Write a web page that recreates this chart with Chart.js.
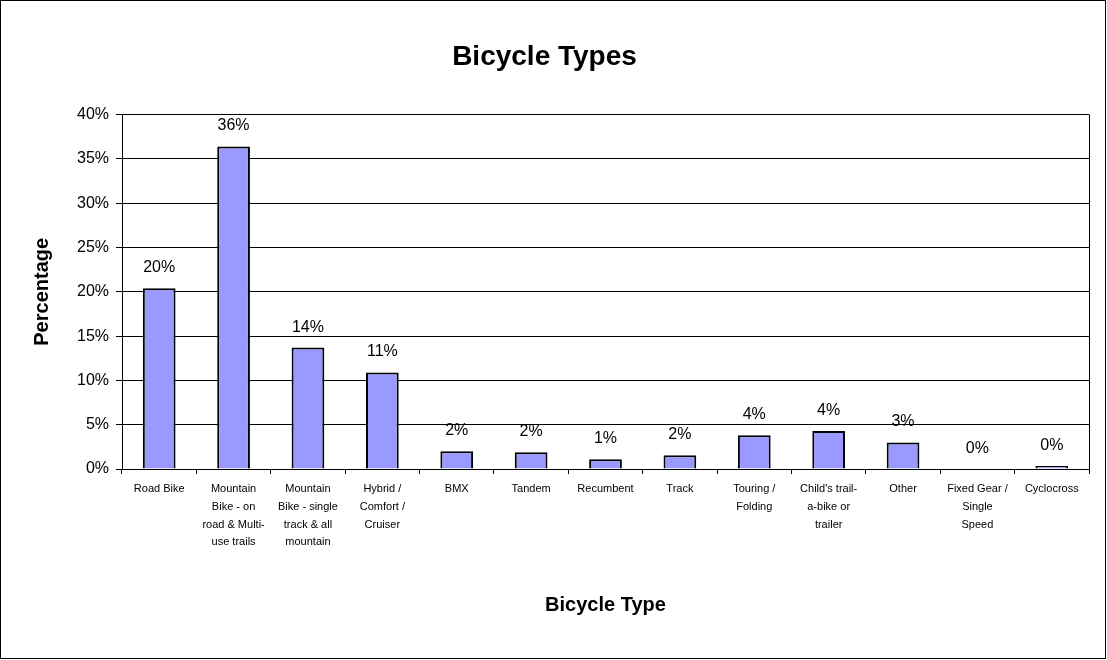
<!DOCTYPE html>
<html>
<head>
<meta charset="utf-8">
<script src="https://cdn.jsdelivr.net/npm/chart.js@4.4.0/dist/chart.umd.min.js"></script>
<style>
  body { margin: 0; background: #fff; }
  #wrap { width: 1107px; height: 660px; }
</style>
</head>
<body>
<div id="wrap"><canvas id="grafico" width="1107" height="660"></canvas></div>
<script>
// categorias y valores
const categorias = [
    ["Road Bike"],
    ["Mountain", "Bike - on", "road & Multi-", "use trails"],
    ["Mountain", "Bike - single", "track & all", "mountain"],
    ["Hybrid /", "Comfort /", "Cruiser"],
    ["BMX"],
    ["Tandem"],
    ["Recumbent"],
    ["Track"],
    ["Touring /", "Folding"],
    ["Child's trail-", "a-bike or", "trailer"],
    ["Other"],
    ["Fixed Gear /", "Single", "Speed"],
    ["Cyclocross"]
];
const porcentajes = [20.4, 36.4, 13.7, 10.9, 2.0, 1.9, 1.1, 1.55, 3.8, 4.3, 3.0, 0.0, 0.35];
const ticksY = [0, 5, 10, 15, 20, 25, 30, 35, 40];

// etiquetas encima de cada barra + borde del grafico
const etiquetasPlugin = {
    id: "etiquetas",
    afterDatasetsDraw(chart) {
        const ctx = chart.ctx;
        const meta = chart.getDatasetMeta(0);
        ctx.save();
        ctx.fillStyle = "#000";
        ctx.font = "16px Arial, 'Liberation Sans', sans-serif";
        ctx.textAlign = "center";
        ctx.textBaseline = "alphabetic";
        meta.data.forEach((bar, i) => {
            ctx.fillText(Math.round(porcentajes[i]) + "%", bar.x, bar.y - 16);
        });
        // linea derecha del area de trazado
        const a = chart.chartArea;
        ctx.strokeStyle = "#000";
        ctx.lineWidth = 1;
        ctx.beginPath();
        ctx.moveTo(Math.round(a.right) + 0.5, a.top);
        ctx.lineTo(Math.round(a.right) + 0.5, a.bottom);
        ctx.stroke();
        // marco exterior
        ctx.strokeRect(0.5, 0.5, chart.width - 2, chart.height - 2);
        ctx.restore();
    }
};

new Chart(document.getElementById("grafico").getContext("2d"), {
    type: "bar",
    data: {
        labels: categorias,
        datasets: [{
            data: porcentajes,
            backgroundColor: "#9999FF",
            borderColor: "#000",
            borderWidth: 2,
            barPercentage: 0.44,
            categoryPercentage: 1.0
        }]
    },
    options: {
        responsive: false,
        animation: false,
        layout: { padding: { top: 0, right: 18, bottom: 0, left: 0 } },
        plugins: {
            legend: { display: false },
            tooltip: { enabled: false },
            title: {
                display: true,
                text: "Bicycle Types",
                color: "#000",
                font: { family: "Arial, 'Liberation Sans', sans-serif", size: 28, weight: "bold" },
                padding: { top: 40, bottom: 41 }
            }
        },
        scales: {
            x: {
                grid: { display: true, drawOnChartArea: false, color: "#000", tickLength: 5, offset: true },
                border: { display: true, color: "#000", width: 1 },
                ticks: {
                    color: "#000",
                    maxRotation: 0,
                    autoSkip: false,
                    padding: 6,
                    font: { family: "Arial, 'Liberation Sans', sans-serif", size: 11, lineHeight: 1.62 }
                },
                title: {
                    display: true,
                    text: "Bicycle Type",
                    color: "#000",
                    font: { family: "Arial, 'Liberation Sans', sans-serif", size: 20, weight: "bold" },
                    padding: { top: 0, bottom: 43 }
                },
                afterFit(scale) { scale.height = 191; }
            },
            y: {
                min: 0,
                max: 40,
                afterBuildTicks(scale) { scale.ticks = ticksY.map(v => ({ value: v })); },
                grid: { color: "#000", lineWidth: 1, tickLength: 6 },
                border: { display: true, color: "#000", width: 1 },
                ticks: {
                    color: "#000",
                    padding: 7,
                    font: { family: "Arial, 'Liberation Sans', sans-serif", size: 16 },
                    callback: v => v + "%"
                },
                title: {
                    display: true,
                    text: "Percentage",
                    color: "#000",
                    font: { family: "Arial, 'Liberation Sans', sans-serif", size: 20, weight: "bold" },
                    padding: { top: 30, bottom: 0 }
                },
                afterFit(scale) { scale.width = 122; }
            }
        }
    },
    plugins: [etiquetasPlugin]
});
</script>
</body>
</html>
